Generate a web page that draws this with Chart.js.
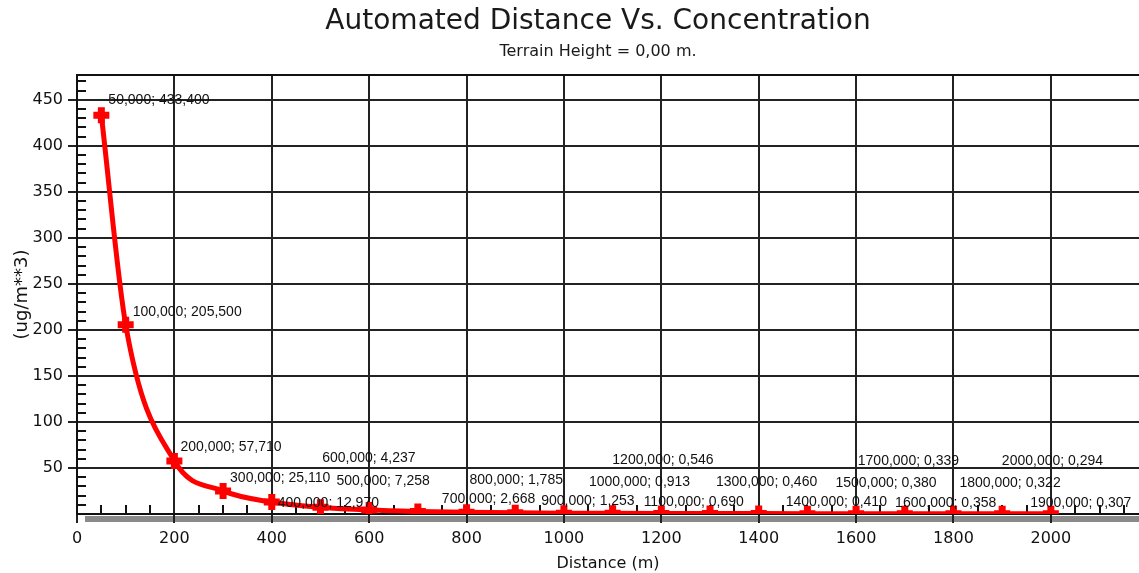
<!DOCTYPE html>
<html>
<head>
<meta charset="utf-8">
<script src="https://cdn.jsdelivr.net/npm/chart.js@4"></script>
<style>
  html, body { margin: 0; padding: 0; background: #fff; }
  #wrap { width: 1139px; height: 573px; }
</style>
</head>
<body>
<div id="wrap"><canvas id="distChart"></canvas></div>
<script>
// distances (m) and concentrations (ug/m**3)
var distances = [50, 100, 200, 300, 400, 500, 600, 700, 800, 900, 1000,
  1100, 1200, 1300, 1400, 1500, 1600, 1700, 1800, 1900, 2000];
var concentrations = [433.4, 205.5, 57.71, 25.11, 12.97, 7.258, 4.237, 2.668,
  1.785, 1.253, 0.913, 0.69, 0.546, 0.46, 0.41, 0.38, 0.358, 0.339, 0.322,
  0.307, 0.294];
var xTicks = [0, 200, 400, 600, 800, 1000, 1200, 1400, 1600, 1800, 2000];
var yTicks = [50, 100, 150, 200, 250, 300, 350, 400, 450];
var titleText = "Automated Distance Vs. Concentration";
var subtitleText = "Terrain Height = 0,00 m.";

// where each point label sits, in px from its point (left edge, middle)
var labelOffsets = [[7, -15], [7, -13], [6, -14], [7, -13], [6, 1], [16, -26],
  [-47, -52], [24, -12], [3, -32], [26, -12], [25, -31], [31, -11], [-49, -53],
  [6, -31], [27, -11], [28, -31], [39, -11], [-47, -53], [6, -31], [28, -11],
  [-49, -53]];

var FONT = "'Liberation Sans', Arial, sans-serif";
var WIDE = "'DejaVu Sans', sans-serif";

function fmt(v) {
  return v.toFixed(3).replace(".", ",");
}

var points = distances.map(function (d, i) {
  return { x: d, y: concentrations[i] };
});

var extras = {
  id: "extras",
  beforeDraw: function (chart) {
    var ctx = chart.ctx, a = chart.chartArea;
    ctx.save();
    ctx.fillStyle = "#8a8a8a";
    ctx.fillRect(a.left + 8, a.bottom + 2, a.right - a.left - 8, 6);
    // title + subtitle
    ctx.fillStyle = "#1a1a1a";
    ctx.textAlign = "center";
    ctx.textBaseline = "middle";
    ctx.font = "28px " + WIDE;
    ctx.fillText(titleText, 598, 22);
    ctx.font = "16px " + WIDE;
    ctx.fillText(subtitleText, 598, 52);
    ctx.restore();
  },
  beforeDatasetsDraw: function (chart) {
    var ctx = chart.ctx, a = chart.chartArea;
    var xs = chart.scales.x, ys = chart.scales.y;
    ctx.save();
    ctx.strokeStyle = "#111";
    ctx.lineWidth = 2;
    ctx.beginPath();
    // top frame
    ctx.moveTo(a.left, a.top);
    ctx.lineTo(a.right, a.top);
    // minor x ticks every 50
    for (var v = 50; v < xs.max; v += 50) {
      if (v % 200 === 0) continue;
      var px = Math.round(xs.getPixelForValue(v));
      ctx.moveTo(px, a.bottom);
      ctx.lineTo(px, a.bottom - 9);
    }
    // minor y ticks every 10
    for (var w = 10; w < ys.max; w += 10) {
      if (w % 50 === 0) continue;
      var py = Math.round(ys.getPixelForValue(w));
      ctx.moveTo(a.left, py);
      ctx.lineTo(a.left + 9, py);
    }
    ctx.stroke();
    ctx.restore();
  },
  afterDatasetsDraw: function (chart) {
    var ctx = chart.ctx;
    var xs = chart.scales.x, ys = chart.scales.y;
    ctx.save();
    ctx.font = "14px " + FONT;
    ctx.fillStyle = "#111";
    ctx.textAlign = "left";
    ctx.textBaseline = "middle";
    distances.forEach(function (d, i) {
      var px = xs.getPixelForValue(d), py = ys.getPixelForValue(concentrations[i]);
      var o = labelOffsets[i];
      ctx.fillText(fmt(d) + "; " + fmt(concentrations[i]), px + o[0], py + o[1]);
    });
    ctx.restore();
  }
};

var ctx = document.getElementById("distChart").getContext("2d");
var myChart = new Chart(ctx, {
  type: "line",
  data: {
    datasets: [
      {
        label: "Concentration",
        data: points,
        borderColor: "#ff0000",
        backgroundColor: "#ff0000",
        borderWidth: 5,
        cubicInterpolationMode: "monotone",
        pointStyle: "cross",
        pointRadius: 8,
        pointBorderWidth: 7,
        pointBorderColor: "#ff0000",
        clip: { left: 10, top: 10, right: 10, bottom: 0 },
      },
    ],
  },
  options: {
    responsive: true,
    maintainAspectRatio: false,
    animation: false,
    layout: { padding: { top: 75, left: 0, right: 0, bottom: 0 }, autoPadding: false },
    plugins: {
      legend: { display: false },
      tooltip: { enabled: false },
    },
    scales: {
      x: {
        type: "linear",
        min: 0,
        max: 2181,
        afterBuildTicks: function (scale) {
          scale.ticks = xTicks.map(function (v) { return { value: v }; });
        },
        afterFit: function (scale) { scale.height = 59; },
        ticks: {
          color: "#111",
          font: { family: WIDE, size: 16 },
          padding: 6,
          maxRotation: 0,
          autoSkip: false,
          callback: function (v) { return String(v); },
        },
        grid: { color: "#222", lineWidth: 2, tickLength: 9 },
        border: { color: "#111", width: 2 },
        title: {
          display: true,
          text: "Distance (m)",
          color: "#111",
          font: { family: WIDE, size: 16 },
          padding: { top: 0, bottom: 0 },
        },
      },
      y: {
        type: "linear",
        min: 0,
        max: 477,
        afterBuildTicks: function (scale) {
          scale.ticks = yTicks.map(function (v) { return { value: v }; });
        },
        afterFit: function (scale) { scale.width = 77; },
        ticks: {
          color: "#111",
          font: { family: WIDE, size: 16 },
          padding: 5,
          autoSkip: false,
          callback: function (v) { return String(v); },
        },
        grid: { color: "#222", lineWidth: 2, tickLength: 9 },
        border: { color: "#111", width: 2 },
        title: {
          display: true,
          text: "(ug/m**3)",
          color: "#111",
          font: { family: WIDE, size: 18 },
          padding: { top: 12, bottom: 0 },
        },
      },
    },
  },
  plugins: [extras],
});
</script>
</body>
</html>
